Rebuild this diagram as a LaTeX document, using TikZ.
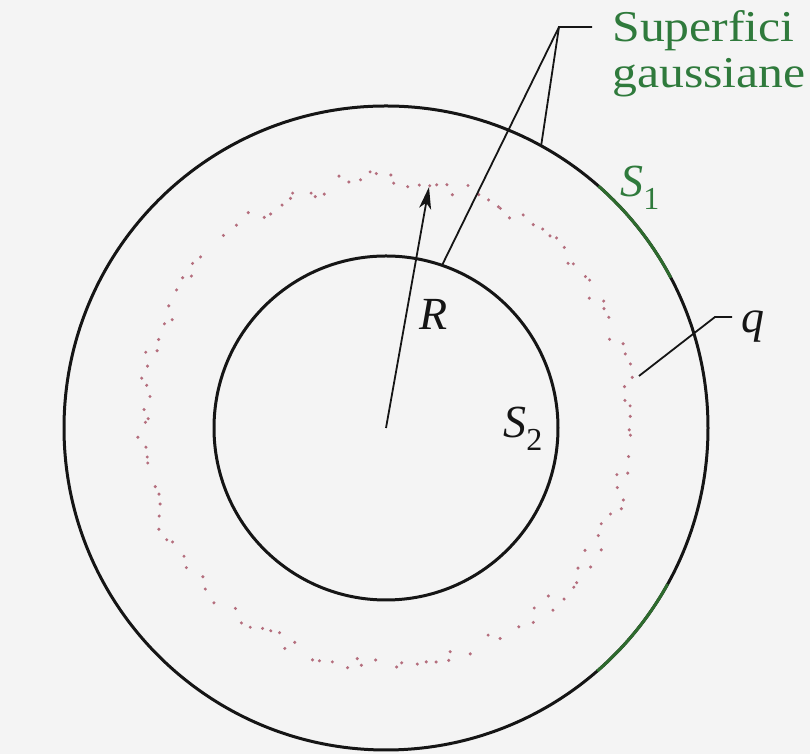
\documentclass[tikz,border=0pt]{standalone}
\usepackage{fontspec}
\setmainfont{Liberation Serif}
\newfontfamily\labelfont[FakeStretch=1.13]{Liberation Serif}
\usetikzlibrary{calc,arrows.meta}
\definecolor{bgc}{HTML}{F4F4F4}
\definecolor{gtxt}{HTML}{2F7A3C}
\definecolor{garc}{HTML}{2E6B2E}
\definecolor{dotc}{RGB}{180,110,125}
\definecolor{ink}{HTML}{151515}
\tikzset{
  surf/.style={draw=ink,line width=1.5pt},
  leader/.style={draw=ink,line width=0.9pt},
  lbl/.style={inner sep=0pt,anchor=base west,text=ink},
  glbl/.style={inner sep=0pt,anchor=base west,text=gtxt},
}
\begin{document}
\begin{tikzpicture}[x=0.5pt,y=0.5pt]
\useasboundingbox (0,0) rectangle (810,754);
\fill[bgc] (0,0) rectangle (810,754);
\coordinate (C) at (386,326);
\coordinate (D) at (386,332);
% dotted charge shell
\pgfmathsetseed{11}
\foreach \i in {0,...,149}{
  \pgfmathsetmacro{\a}{\i*2.4+rnd*2.0}
  \pgfmathsetmacro{\r}{244+rand*8}
  \pgfmathsetmacro{\k}{rnd}
  \ifdim\k pt>0.1pt
    \fill[dotc] ($(D)+(\a:\r)$) circle (1.7);
  \fi
}
% Gaussian surfaces
\draw[surf] (C) circle (322);
\draw[surf,draw=garc] ($(C)+(27.8:322)$) arc (27.8:48.7:322);
\draw[surf,draw=garc] ($(C)+(-49:322)$) arc (-49:-29:322);
\draw[surf] (C) circle (172);
% radius arrow
\coordinate (Rtip) at (429,567);
\draw[draw=ink,line width=0.9pt,-{Stealth[length=11pt,width=6pt,inset=3pt]}] (C) -- (Rtip);
% leader to surfaces
\coordinate (V) at (559,727);
\coordinate (Vt) at (592,727);
\coordinate (Po) at ($(C)+(61.2:322)$);
\coordinate (Pi) at ($(C)+(71:172)$);
\draw[leader] (Vt) -- (V) -- (Po);
\draw[leader] (V) -- (Pi);
% leader to q
\coordinate (Qt) at (732,437);
\coordinate (Qc) at (715,437);
\coordinate (Qe) at (639,378);
\draw[leader] (Qt) -- (Qc) -- (Qe);
% labels
\node[glbl,font=\labelfont\fontsize{22}{26}\selectfont] (sup) at (612,712) {Superfici};
\node[glbl,font=\labelfont\fontsize{22}{26}\selectfont] (gau) at (612,666) {gaussiane};
\node[glbl,font=\fontsize{23}{26}\selectfont] (s1) at (620,557) {\textit{S}\raisebox{-0.28em}{\fontsize{16}{16}\selectfont 1}};
\node[lbl,font=\fontsize{23}{26}\selectfont] (R) at (419,424) {\textit{R}};
\node[lbl,font=\fontsize{23}{26}\selectfont] (q) at (741,421) {\textit{q}};
\node[lbl,font=\fontsize{23}{26}\selectfont] (s2) at (503,316) {\textit{S}\raisebox{-0.28em}{\fontsize{16}{16}\selectfont 2}};
\end{tikzpicture}
\end{document}
